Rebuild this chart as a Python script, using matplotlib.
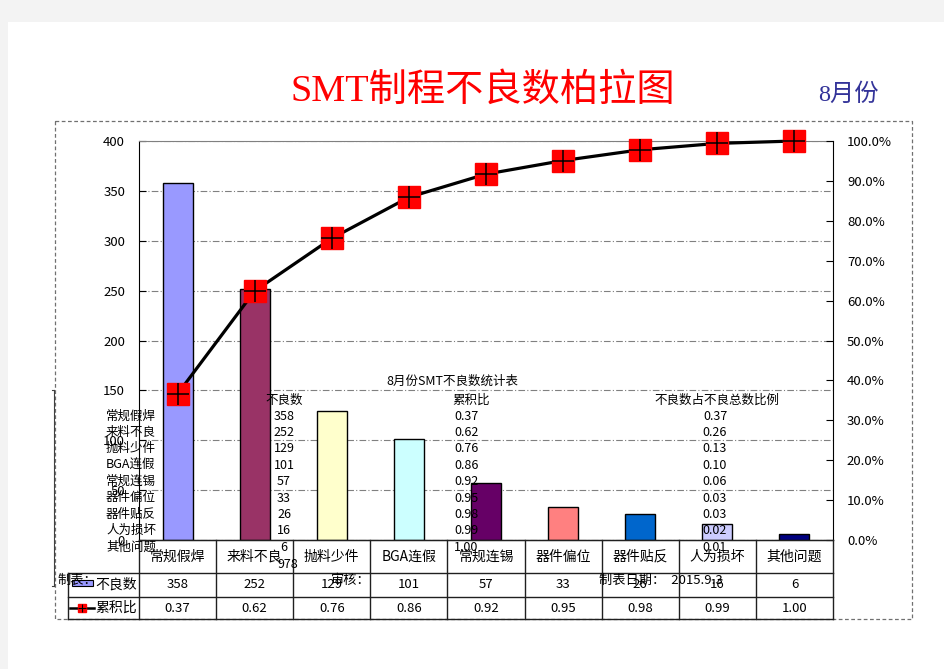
import matplotlib
matplotlib.use('Agg')
import matplotlib.pyplot as plt
from matplotlib.patches import Rectangle
import numpy as np

plt.rcParams['font.family'] = ['Noto Sans CJK SC', 'DejaVu Sans']

# ---------------- data ----------------
categories = ['常规假焊', '来料不良', '抛料少件', 'BGA连假', '常规连锡',
              '器件偏位', '器件贴反', '人为损坏', '其他问题']
counts = [358, 252, 129, 101, 57, 33, 26, 16, 6]
cum_pct = [36.6, 62.4, 75.6, 85.9, 91.7, 95.1, 97.8, 99.4, 100.0]
cum_labels = ['0.37', '0.62', '0.76', '0.86', '0.92', '0.95', '0.98', '0.99', '1.00']
share_labels = ['0.37', '0.26', '0.13', '0.10', '0.06', '0.03', '0.03', '0.02', '0.01']
total_label = '978'
bar_colors = ['#9999FF', '#993366', '#FFFFCC', '#CCFFFF', '#660066',
              '#FF8080', '#0066CC', '#CCCCFF', '#000080']
left_ticks = [0, 50, 100, 150, 200, 250, 300, 350, 400]
right_ticks = [0, 10, 20, 30, 40, 50, 60, 70, 80, 90, 100]

title = 'SMT制程不良数柏拉图'
subtitle = '8月份'
row_names = ['不良数', '累积比']
overlay_title = '8月份SMT不良数统计表'
overlay_heads = ['不良数', '累积比', '不良数占不良总数比例']
footer = ['制表：', '审核：', '制表日期：  2015.9.3']

# ---------------- figure ----------------
W, H = 945, 669
fig = plt.figure(figsize=(W / 100, H / 100), dpi=100, facecolor='#f3f3f3')
fig.add_artist(Rectangle((8 / W, 0), 1 - 8 / W, 1 - 22 / H, transform=fig.transFigure,
                         facecolor='white', edgecolor='none', zorder=-10))

L, R, T, B = 139, 833, 141, 540
ax = fig.add_axes([L / W, 1 - B / H, (R - L) / W, (B - T) / H])
ax.set_facecolor('none')
x = np.arange(len(categories))
ax.bar(x, counts, width=0.39, color=bar_colors, edgecolor='black', linewidth=1, zorder=3)
ax.set_xlim(-0.5, len(categories) - 0.5)
ax.set_ylim(0, 400)
ax.set_yticks(left_ticks)
ax.yaxis.grid(True, linestyle=(0, (6, 2, 1, 2)), color='#808080', lw=0.8)
ax.set_axisbelow(True)
ax.set_xticks([])
ax.tick_params(axis='y', direction='in', length=5, pad=10, labelsize=9.5)
ax.spines['top'].set_color('#808080')
ax.spines['right'].set_visible(False)
ax.spines['left'].set_color('black')
ax.spines['bottom'].set_color('black')

ax2 = ax.twinx()
ax2.set_ylim(0, 100)
ax2.plot(x, cum_pct, color='black', lw=2.3, marker='s', ms=15.5,
         mfc='#ff0000', mec='#ff0000', clip_on=False, zorder=4)
ax2.plot(x, cum_pct, ls='none', marker='+', ms=15.5, mew=1.1, color='black',
         clip_on=False, zorder=5)
ax2.set_yticks(right_ticks)
ax2.set_yticklabels([f'{v:.1f}%' for v in right_ticks])
ax2.tick_params(axis='y', direction='in', length=5, pad=10, labelsize=9.5)
for s in ['top', 'bottom', 'left']:
    ax2.spines[s].set_visible(False)
ax2.spines['right'].set_color('black')

# ---------------- overlay (pixel coordinates) ----------------
ov = fig.add_axes([0, 0, 1, 1], zorder=10)
ov.set_xlim(0, W)
ov.set_ylim(H, 0)
ov.axis('off')

# dashed chart-area border
ov.add_patch(Rectangle((55, 121), 912 - 55, 619 - 121, fill=False,
                       edgecolor='#707070', lw=0.9, linestyle=(0, (3, 2))))
# stray bracket line on the left
ov.plot([54, 54], [390, 586], color='#404040', lw=0.8)
ov.plot([52, 54], [390, 390], color='#404040', lw=0.8)
ov.plot([52, 54], [586, 586], color='#404040', lw=0.8)

# titles
ov.text(483, 91, title, color='#ff0000', fontsize=27.5, ha='center', va='center',
        family=['Liberation Serif', 'Noto Sans CJK SC'])
ov.text(848, 95, subtitle, color='#333399', fontsize=17.5, ha='center', va='center',
        family=['Liberation Serif', 'Noto Sans CJK SC'])

# data table
n = len(categories)
cw = (R - L) / n
lc = '#202020'
y_cat, y_r1, y_r2, y_end = 540, 573, 597, 619
ov.plot([L, R], [y_cat, y_cat], color=lc, lw=1)
for yy in (y_r1, y_r2, y_end):
    ov.plot([68, R], [yy, yy], color=lc, lw=1)
ov.plot([68, 68], [y_r1, y_end], color=lc, lw=1)
for k in range(n + 1):
    xx = L + cw * k
    ov.plot([xx, xx], [y_cat, y_end], color=lc, lw=1)
for i, cat in enumerate(categories):
    cx = L + cw * (i + 0.5)
    ov.text(cx, (y_cat + y_r1) / 2, cat, ha='center', va='center', fontsize=10)
    ov.text(cx, (y_r1 + y_r2) / 2, str(counts[i]), ha='center', va='center', fontsize=9.5)
    ov.text(cx, (y_r2 + y_end) / 2, cum_labels[i], ha='center', va='center', fontsize=9.5)

# legend keys in table
ov.add_patch(Rectangle((72, 580), 21, 6, facecolor=bar_colors[0], edgecolor='black', lw=0.8))
ov.text(95, (y_r1 + y_r2) / 2, row_names[0], ha='left', va='center', fontsize=10)
ov.plot([70, 94], [608, 608], color='black', lw=1.8)
ov.plot([82], [608], marker='s', ms=6, mfc='#ff0000', mec='#ff0000')
ov.plot([82], [608], marker='+', ms=6, mew=0.8, color='black')
ov.text(95, (y_r2 + y_end) / 2, row_names[1], ha='left', va='center', fontsize=10)

# overlaid worksheet text
ov.text(452, 381, overlay_title, ha='center', va='center', fontsize=9)
ov.text(284, 400, overlay_heads[0], ha='center', va='center', fontsize=9)
ov.text(471, 400, overlay_heads[1], ha='center', va='center', fontsize=9)
ov.text(717, 400, overlay_heads[2], ha='center', va='center', fontsize=9)
row_y0, row_dy = 416, 16.4
for i in range(n):
    yy = row_y0 + row_dy * i
    ov.text(106, yy, categories[i], ha='left', va='center', fontsize=9)
    ov.text(284, yy, str(counts[i]), ha='center', va='center', fontsize=9)
    ov.text(454, yy, cum_labels[i], ha='left', va='center', fontsize=9)
    ov.text(715, yy, share_labels[i], ha='center', va='center', fontsize=9)
ov.text(288, 565, total_label, ha='center', va='center', fontsize=9)

ov.text(57, 580, footer[0], ha='left', va='center', fontsize=9.5)
ov.text(331, 580, footer[1], ha='left', va='center', fontsize=9.5)
ov.text(599, 580, footer[2], ha='left', va='center', fontsize=9.5)

fig.savefig('out.png', dpi=100, facecolor=fig.get_facecolor())
